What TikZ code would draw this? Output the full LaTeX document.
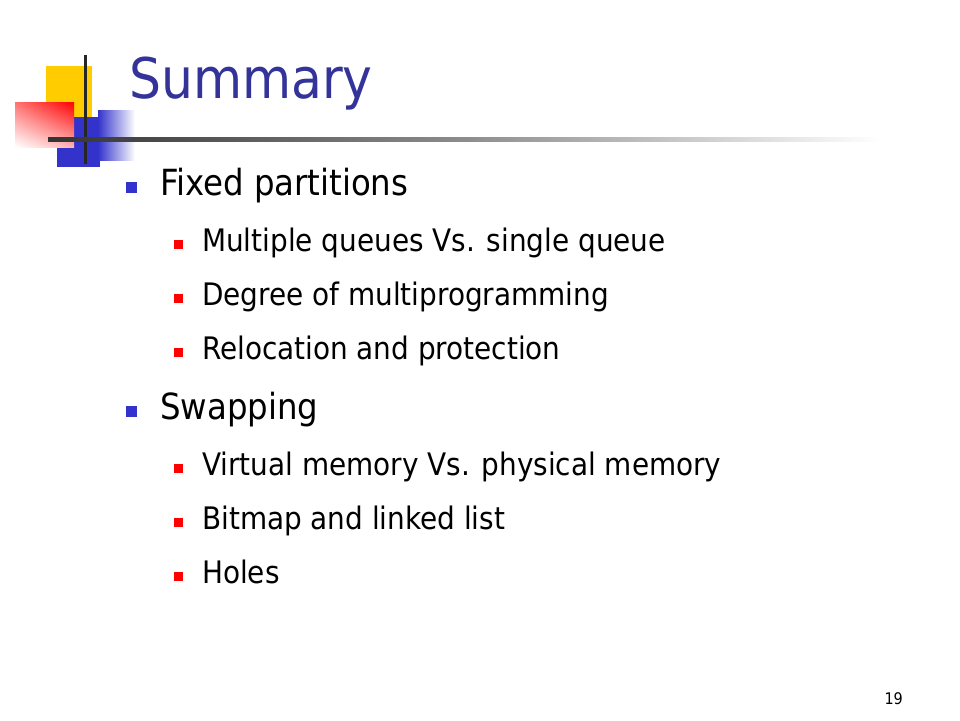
\documentclass[tikz,border=0pt]{standalone}
\usepackage{fontspec}
\setmainfont{DejaVu Sans Condensed}
\usetikzlibrary{shadings}
\definecolor{titleblue}{HTML}{333399}
\definecolor{logoblue}{HTML}{3333CC}
\definecolor{logoyellow}{HTML}{FFCC00}
\definecolor{bulletred}{HTML}{FF0000}
\definecolor{linedark}{HTML}{333333}
\tikzset{
  titletext/.style={anchor=base west, inner sep=0pt, text=titleblue, font=\fontsize{56}{60}\selectfont},
  lvlone/.style={anchor=base west, inner sep=0pt, font=\fontsize{36}{40}\selectfont},
  lvltwo/.style={anchor=base west, inner sep=0pt, font=\fontsize{31}{35}\selectfont},
  bulletone/.style={fill=logoblue, draw=none, minimum size=11pt, inner sep=0pt},
  bullettwo/.style={fill=bulletred, draw=none, minimum size=9.5pt, inner sep=0pt},
}
\begin{document}
\begin{tikzpicture}[x=1pt,y=-1pt]
\useasboundingbox[fill=white] (0,0) rectangle (960,720);
% logo
\fill[logoyellow] (46,66) rectangle (92,117);
\fill[logoblue] (57,117) rectangle (100,167);
\shade[upper left=red!55, upper right=red, lower left=white, lower right=red!30] (15,102) rectangle (74,147);
\shade[left color=logoblue, right color=white] (98,110) rectangle (135,160);
\draw[line width=3pt, color=black!85] (85,55) -- (85,164);
\shade[left color=linedark, right color=white, middle color=black!45] (48,137) rectangle (880,141);
% title
\node[titletext] (t) at (129,98) {Summary};
% level one
\node[bulletone] (b1) at (131.5,187) {};
\node[lvlone] (l1) at (160,195) {Fixed partitions};
\node[bullettwo] (b11) at (178.5,244.5) {};
\node[lvltwo] (l11) at (202,251) {Multiple queues Vs. single queue};
\node[bullettwo] (b12) at (178.5,298.5) {};
\node[lvltwo] (l12) at (202,305) {Degree of multiprogramming};
\node[bullettwo] (b13) at (178.5,352.5) {};
\node[lvltwo] (l13) at (202,359) {Relocation and protection};
\node[bulletone] (b2) at (131.5,411) {};
\node[lvlone] (l2) at (160,419) {Swapping};
\node[bullettwo] (b21) at (178.5,468.5) {};
\node[lvltwo] (l21) at (202,475) {Virtual memory Vs. physical memory};
\node[bullettwo] (b22) at (178.5,522.5) {};
\node[lvltwo] (l22) at (202,529) {Bitmap and linked list};
\node[bullettwo] (b23) at (178.5,576.5) {};
\node[lvltwo] (l23) at (202,583) {Holes};
\node[anchor=base east, inner sep=0pt, font=\fontsize{16}{18}\selectfont] (pg) at (903,704) {19};
\end{tikzpicture}
\end{document}
